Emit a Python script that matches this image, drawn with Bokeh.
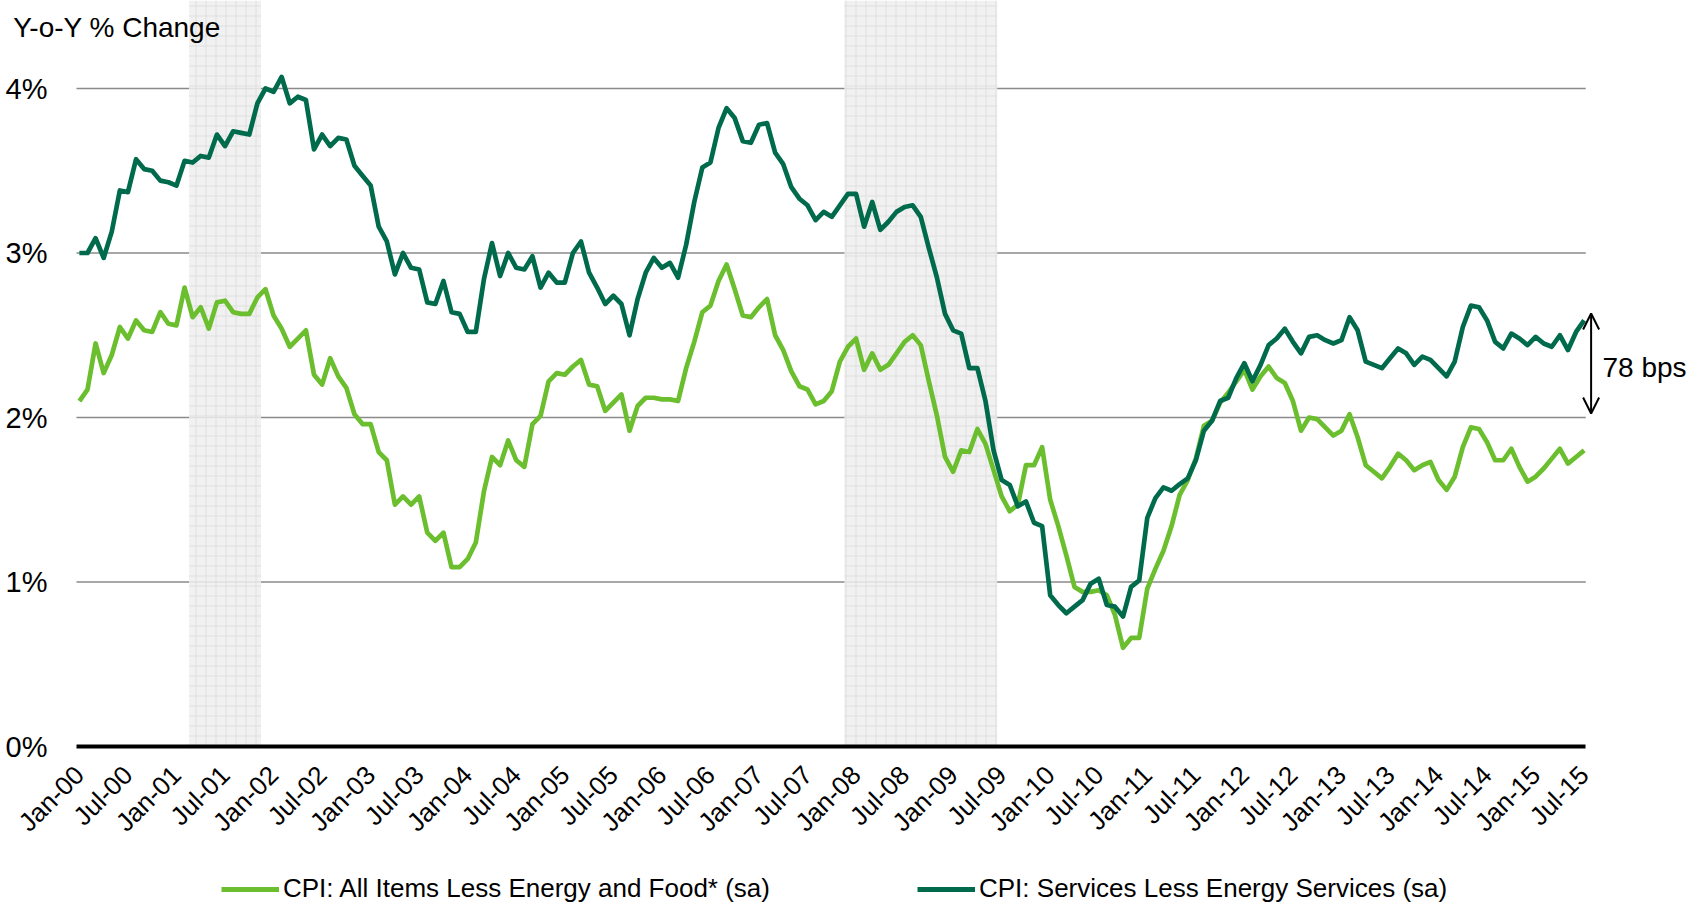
import math
import numpy as np
import pandas as pd
from bokeh.plotting import figure
from bokeh.layouts import column
from bokeh.models import (Range1d, FixedTicker, Legend, LegendItem, Label,
                          Arrow, OpenHead, ColumnDataSource)
from bokeh.embed import file_html
from bokeh.resources import INLINE

# ---------------- data ----------------
months = pd.date_range("2000-01-01", "2015-07-01", freq="MS")

core_cpi = [
    2.10, 2.17, 2.45, 2.27, 2.38, 2.55, 2.48, 2.59, 2.53, 2.52, 2.64, 2.57,
    2.56, 2.79, 2.61, 2.67, 2.54, 2.70, 2.71, 2.64, 2.63, 2.63, 2.73, 2.78,
    2.62, 2.54, 2.43, 2.48, 2.53, 2.26, 2.20, 2.36, 2.25, 2.18, 2.02, 1.96,
    1.96, 1.79, 1.74, 1.47, 1.52, 1.47, 1.52, 1.30, 1.25, 1.30, 1.09, 1.09,
    1.14, 1.24, 1.55, 1.76, 1.71, 1.86, 1.74, 1.70, 1.96, 2.01, 2.22, 2.27,
    2.26, 2.31, 2.35, 2.20, 2.19, 2.04, 2.09, 2.14, 1.92, 2.07, 2.12, 2.12,
    2.11, 2.11, 2.10, 2.30, 2.46, 2.64, 2.68, 2.83, 2.93, 2.78, 2.62, 2.61,
    2.67, 2.72, 2.50, 2.41, 2.28, 2.19, 2.17, 2.08, 2.10, 2.16, 2.34, 2.43,
    2.48, 2.29, 2.39, 2.29, 2.32, 2.39, 2.46, 2.50, 2.44, 2.22, 2.01, 1.76,
    1.67, 1.80, 1.79, 1.93, 1.84, 1.68, 1.52, 1.43, 1.47, 1.71, 1.71, 1.82,
    1.50, 1.34, 1.16, 0.97, 0.94, 0.94, 0.95, 0.92, 0.80, 0.60, 0.66, 0.66,
    0.96, 1.08, 1.19, 1.34, 1.53, 1.62, 1.75, 1.95, 1.98, 2.09, 2.15, 2.22,
    2.29, 2.17, 2.25, 2.31, 2.24, 2.21, 2.10, 1.92, 2.00, 1.99, 1.94, 1.89,
    1.92, 2.02, 1.88, 1.71, 1.67, 1.63, 1.70, 1.78, 1.74, 1.68, 1.71, 1.73,
    1.62, 1.56, 1.64, 1.82, 1.94, 1.93, 1.85, 1.74, 1.74, 1.81, 1.70, 1.61,
    1.64, 1.69, 1.75, 1.81, 1.72, 1.76, 1.80,
]

services_cpi = [
    3.00, 3.00, 3.09, 2.97, 3.13, 3.38, 3.37, 3.57, 3.51, 3.50, 3.44, 3.43,
    3.41, 3.56, 3.55, 3.59, 3.58, 3.72, 3.65, 3.74, 3.73, 3.72, 3.91, 4.00,
    3.98, 4.07, 3.91, 3.95, 3.93, 3.63, 3.72, 3.65, 3.70, 3.69, 3.53, 3.47,
    3.41, 3.16, 3.07, 2.87, 3.00, 2.91, 2.90, 2.70, 2.69, 2.83, 2.64, 2.63,
    2.52, 2.52, 2.84, 3.06, 2.86, 3.00, 2.91, 2.90, 2.98, 2.79, 2.88, 2.82,
    2.82, 3.00, 3.07, 2.88, 2.79, 2.69, 2.74, 2.69, 2.50, 2.72, 2.88, 2.97,
    2.91, 2.94, 2.85, 3.05, 3.31, 3.52, 3.55, 3.76, 3.88, 3.82, 3.68, 3.67,
    3.78, 3.79, 3.61, 3.54, 3.40, 3.33, 3.29, 3.20, 3.25, 3.22, 3.29, 3.36,
    3.36, 3.16, 3.31, 3.14, 3.19, 3.25, 3.28, 3.29, 3.22, 3.03, 2.85, 2.63,
    2.53, 2.51, 2.30, 2.30, 2.10, 1.80, 1.62, 1.59, 1.46, 1.49, 1.36, 1.34,
    0.92, 0.86, 0.81, 0.85, 0.89, 0.99, 1.02, 0.86, 0.85, 0.79, 0.97, 1.01,
    1.39, 1.51, 1.575, 1.555, 1.595, 1.63, 1.74, 1.92, 1.98, 2.10, 2.12, 2.24,
    2.33, 2.22, 2.32, 2.44, 2.48, 2.54, 2.46, 2.39, 2.49, 2.50, 2.47, 2.45,
    2.47, 2.61, 2.53, 2.34, 2.32, 2.30, 2.36, 2.42, 2.39, 2.32, 2.37, 2.35,
    2.30, 2.25, 2.34, 2.55, 2.68, 2.67, 2.59, 2.46, 2.42, 2.51, 2.48, 2.44,
    2.49, 2.45, 2.43, 2.50, 2.41, 2.52, 2.59,
]

tick_labels = [
    "Jan-00", "Jul-00", "Jan-01", "Jul-01", "Jan-02", "Jul-02", "Jan-03", "Jul-03",
    "Jan-04", "Jul-04", "Jan-05", "Jul-05", "Jan-06", "Jul-06", "Jan-07", "Jul-07",
    "Jan-08", "Jul-08", "Jan-09", "Jul-09", "Jan-10", "Jul-10", "Jan-11", "Jul-11",
    "Jan-12", "Jul-12", "Jan-13", "Jul-13", "Jan-14", "Jul-14", "Jan-15", "Jul-15",
]

y_ticks = [0, 1, 2, 3, 4]
y_tick_labels = ["0%", "1%", "2%", "3%", "4%"]

recession_starts = ["2001-03-01", "2007-12-01"]
recession_ends = ["2001-11-01", "2009-06-01"]

series_names = ["CPI: All Items Less Energy and Food* (sa)",
                "CPI: Services Less Energy Services (sa)"]
gap_label = "78 bps"
y_title = "Y-o-Y % Change"

# ---------------- helpers ----------------
idx = {d: i for i, d in enumerate(months)}
x = np.arange(len(months))
src = ColumnDataSource(dict(x=x, core=core_cpi, serv=services_cpi))

FONT = "Liberation Sans"
LIGHT = "#6BBE2D"
DARK = "#006B4C"

X_LO, X_HI = -0.36, 186.2          # extent of the plotted area
W = 1694
FRAME_H = 746
AXIS_H = 105
H_MAIN = FRAME_H + AXIS_H
Y_TOP = FRAME_H / 164.5

p = figure(width=W, height=H_MAIN, output_backend="svg", toolbar_location=None,
           x_range=Range1d(-9.753, 199.64), y_range=Range1d(0, Y_TOP),
           min_border_left=0, min_border_right=0, min_border_top=0,
           min_border_bottom=AXIS_H)
p.outline_line_color = None
p.background_fill_color = "white"
p.border_fill_color = "white"

# horizontal gridlines, limited to the plotted area
grid_y = y_ticks[1:]
p.segment(x0=[X_LO] * len(grid_y), x1=[X_HI] * len(grid_y), y0=grid_y, y1=grid_y,
          line_color="#8A8A8A", line_width=1.5)

# recession shading
rl = [idx[pd.Timestamp(s)] - 0.45 for s in recession_starts]
rr = [idx[pd.Timestamp(e)] + 0.45 for e in recession_ends]
p.quad(left=rl, right=rr, bottom=0, top=Y_TOP, fill_color="#EFEFEF",
       fill_alpha=0.85, line_color=None, hatch_pattern="+",
       hatch_color="#DEDEDE", hatch_scale=10, hatch_weight=1, hatch_alpha=0.9)

r1 = p.line("x", "core", source=src, line_color=LIGHT, line_width=4.7,
            line_join="round")
r2 = p.line("x", "serv", source=src, line_color=DARK, line_width=4.7,
            line_join="round")

# axes
p.xaxis.bounds = (X_LO, X_HI)
p.xaxis.ticker = FixedTicker(ticks=list(range(0, 6 * len(tick_labels), 6)))
p.xaxis.major_label_overrides = {6 * i: t for i, t in enumerate(tick_labels)}
p.xaxis.major_label_orientation = math.pi / 4
p.xaxis.major_label_text_font = FONT
p.xaxis.major_label_text_font_size = "26px"
p.xaxis.major_label_text_color = "black"
p.xaxis.major_label_standoff = 24
p.xaxis.axis_line_color = "black"
p.xaxis.axis_line_width = 4
p.xaxis.major_tick_line_color = None
p.xaxis.minor_tick_line_color = None
p.xaxis.major_tick_out = 0
p.xaxis.major_tick_in = 0

p.yaxis.ticker = FixedTicker(ticks=y_ticks)
p.yaxis.major_label_overrides = {t: l for t, l in zip(y_ticks, y_tick_labels)}
p.yaxis.major_label_text_font = FONT
p.yaxis.major_label_text_font_size = "29px"
p.yaxis.major_label_text_color = "black"
p.yaxis.major_label_standoff = -47
p.yaxis.axis_line_color = None
p.yaxis.major_tick_line_color = None
p.yaxis.minor_tick_line_color = None
p.yaxis.major_tick_out = 0
p.yaxis.major_tick_in = 0

p.xgrid.visible = False
p.ygrid.visible = False

# title text
p.add_layout(Label(x=-8.18, y=4.371, text=y_title, text_font=FONT,
                   text_font_size="28px", text_color="black",
                   text_baseline="alphabetic"))

# gap annotation
p.add_layout(Arrow(x_start=186.86, y_start=2.024, x_end=186.86, y_end=2.632,
                   line_color="black", line_width=2,
                   start=OpenHead(size=16, line_width=2, line_color="black"),
                   end=OpenHead(size=16, line_width=2, line_color="black")))
p.add_layout(Label(x=188.27, y=2.304, text=gap_label, text_font=FONT,
                   text_font_size="28px", text_color="black",
                   text_baseline="middle"))

# ---------------- legend strip ----------------
pl = figure(width=W, height=904 - H_MAIN, output_backend="svg",
            toolbar_location=None, x_range=Range1d(0, 1), y_range=Range1d(0, 1),
            min_border_left=0, min_border_right=0, min_border_top=0,
            min_border_bottom=0)
pl.axis.visible = False
pl.grid.visible = False
pl.outline_line_color = None
pl.border_fill_color = "white"
pl.background_fill_color = "white"
# legend keys (their data lie outside the strip's visible range)
lg1 = pl.line(x=[5, 6], y=[5, 6], line_color=LIGHT, line_width=5)
lg2 = pl.line(x=[5, 6], y=[5, 6], line_color=DARK, line_width=5)
legend = Legend(items=[LegendItem(label=series_names[0], renderers=[lg1]),
                       LegendItem(label=series_names[1], renderers=[lg2])],
                location=(221, 0), orientation="horizontal",
                padding=0, margin=0, spacing=147, border_line_color=None,
                background_fill_alpha=0, glyph_width=58, glyph_height=20,
                label_height=20, label_standoff=4,
                label_text_font=FONT, label_text_font_size="26px",
                label_text_color="black")
pl.add_layout(legend, "center")

layout = column(p, pl, spacing=0)
open("out.html", "w").write(file_html(layout, INLINE))
